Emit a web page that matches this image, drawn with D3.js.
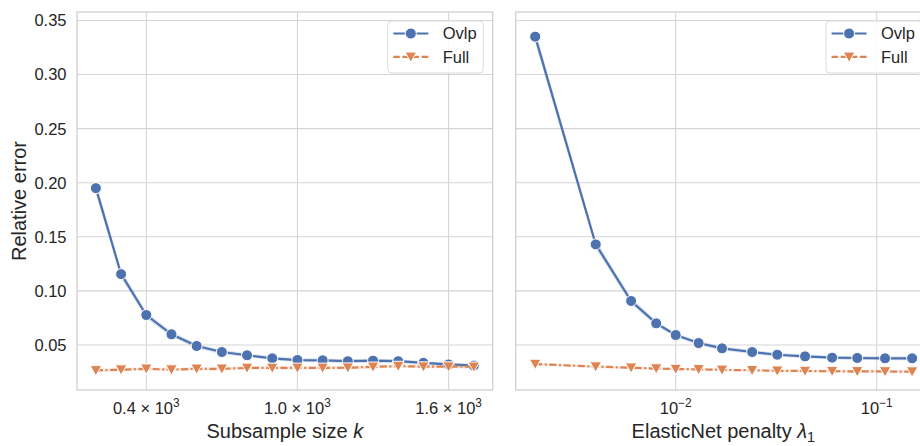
<!DOCTYPE html>
<html>
<head>
<meta charset="utf-8">
<script src="https://cdn.jsdelivr.net/npm/d3@7"></script>
<style>
  html, body { margin: 0; padding: 0; background: #fff; }
  svg { display: block; font-family: "Liberation Sans", Arial, sans-serif; }
</style>
</head>
<body>
<svg id="chart" width="920" height="446"></svg>
<script>
// ---- data ----
const subsampleSizes = [200, 300, 400, 500, 600, 700, 800, 900, 1000, 1100, 1200, 1300, 1400, 1500, 1600, 1700];
const ovlpBySize = [0.195, 0.1155, 0.0777, 0.0599, 0.0491, 0.0435, 0.0405, 0.0377, 0.0361, 0.0358, 0.0350, 0.0355, 0.0350, 0.0335, 0.0320, 0.0310];
const ovlpBySizeCI = [0.006, 0.004, 0.003, 0.0025, 0.002, 0.002, 0.0018, 0.0018, 0.0018, 0.0018, 0.0018, 0.0018, 0.0018, 0.0018, 0.0018, 0.0018];
const fullBySize = [0.0265, 0.0272, 0.0280, 0.0272, 0.0280, 0.0280, 0.0288, 0.0288, 0.0288, 0.0288, 0.0290, 0.0298, 0.0305, 0.0300, 0.0300, 0.0298];
const fullBySizeCI = [0.0015, 0.0015, 0.0015, 0.0015, 0.0015, 0.0015, 0.0015, 0.0015, 0.0015, 0.0015, 0.0015, 0.0015, 0.0015, 0.0015, 0.0015, 0.0015];

const penalties = [0.002, 0.004, 0.006, 0.008, 0.01, 0.013, 0.017, 0.024, 0.032, 0.044, 0.06, 0.08, 0.11, 0.15];
const ovlpByPenalty = [0.335, 0.143, 0.0907, 0.0700, 0.0592, 0.0518, 0.0469, 0.0435, 0.0410, 0.0395, 0.0383, 0.0380, 0.0377, 0.0377];
const ovlpByPenaltyCI = [0.006, 0.004, 0.003, 0.0025, 0.002, 0.002, 0.002, 0.0018, 0.0018, 0.0018, 0.0018, 0.0018, 0.0018, 0.0018];
const fullByPenalty = [0.0324, 0.0300, 0.0290, 0.0282, 0.0278, 0.0275, 0.0270, 0.0266, 0.0262, 0.0260, 0.0258, 0.0256, 0.0255, 0.0254];
const fullByPenaltyCI = [0.0012, 0.0012, 0.0012, 0.0012, 0.0012, 0.0012, 0.0012, 0.0012, 0.0012, 0.0012, 0.0012, 0.0012, 0.0012, 0.0012];

const yTicks = [0.05, 0.10, 0.15, 0.20, 0.25, 0.30, 0.35];
const sizeTicks = [{v: 400, m: "0.4"}, {v: 1000, m: "1.0"}, {v: 1600, m: "1.6"}];
const penaltyTicks = [{v: 0.01, e: "\u22122"}, {v: 0.1, e: "\u22121"}];
const seriesNames = ["Ovlp", "Full"];

// ---- style ----
const BLUE = "#4c72b0", ORANGE = "#dd8452";
const GRID = "#d5d5d5", SPINE = "#cfcfcf", TEXT = "#262626";
const TICK_FS = 16.5, LABEL_FS = 20;

const svg = d3.select("#chart");

const plotTop = 12, plotBottom = 390;
const y = d3.scaleLinear().domain([0.0084, 0.3578]).range([plotBottom, plotTop]);

const xLeft = d3.scaleLinear().domain([125, 1775]).range([77, 492.7]);
const xRight = d3.scaleLog().domain([Math.pow(10, -2.796), Math.pow(10, -0.730)]).range([515.7, 931]);

function markerCircle(sel, color) {
  return sel.append("circle").attr("r", 5.5).attr("fill", color)
    .attr("stroke", "#fff").attr("stroke-width", 1);
}
function markerTri(sel, color) {
  // downward triangle centred on the point
  return sel.append("path").attr("d", "M-5.8,-4.8L5.8,-4.8L0,5.4Z").attr("fill", color)
    .attr("stroke", "#fff").attr("stroke-width", 1).attr("stroke-linejoin", "miter");
}

function drawPanel(opts) {
  const {x, xs, ovlp, ovlpCI, full, fullCI, ticks, tickLabel, xLabel, showY, legendX} = opts;
  const [x0, x1] = x.range();
  const clipId = "clip" + Math.round(x0);
  svg.append("clipPath").attr("id", clipId)
    .append("rect").attr("x", x0).attr("y", plotTop).attr("width", x1 - x0).attr("height", plotBottom - plotTop);

  const g = svg.append("g");

  // gridlines
  g.append("g").selectAll("line").data(yTicks).join("line")
    .attr("x1", x0).attr("x2", x1).attr("y1", d => y(d)).attr("y2", d => y(d))
    .attr("stroke", GRID).attr("stroke-width", 1.1);
  g.append("g").selectAll("line").data(ticks).join("line")
    .attr("x1", d => x(d.v)).attr("x2", d => x(d.v)).attr("y1", plotTop).attr("y2", plotBottom)
    .attr("stroke", GRID).attr("stroke-width", 1.1);

  // spines
  g.append("rect").attr("x", x0).attr("y", plotTop).attr("width", x1 - x0).attr("height", plotBottom - plotTop)
    .attr("fill", "none").attr("stroke", SPINE).attr("stroke-width", 1.3);

  const plot = g.append("g").attr("clip-path", `url(#${clipId})`);

  const series = [
    {vals: ovlp, ci: ovlpCI, color: BLUE, dash: null, marker: markerCircle},
    {vals: full, ci: fullCI, color: ORANGE, dash: "7,2.6,2,2.6", marker: markerTri}
  ];

  series.forEach(s => {
    const pts = xs.map((xv, i) => ({x: xv, v: s.vals[i], c: s.ci[i]}));
    const area = d3.area().x(d => x(d.x)).y0(d => y(d.v - d.c)).y1(d => y(d.v + d.c));
    plot.append("path").datum(pts).attr("d", area).attr("fill", s.color).attr("fill-opacity", 0.2);
    const line = d3.line().x(d => x(d.x)).y(d => y(d.v));
    plot.append("path").datum(pts).attr("d", line).attr("fill", "none")
      .attr("stroke", s.color).attr("stroke-width", 2.2)
      .attr("stroke-dasharray", s.dash);
    plot.append("g").selectAll("g").data(pts).join("g")
      .attr("transform", d => `translate(${x(d.x)},${y(d.v)})`)
      .each(function () { s.marker(d3.select(this), s.color); });
  });

  // x tick labels
  const tl = g.append("g").selectAll("text").data(ticks).join("text")
    .attr("x", d => x(d.v)).attr("y", 413.5)
    .attr("text-anchor", "middle").attr("font-size", TICK_FS).attr("fill", TEXT);
  tl.each(function (d) { tickLabel(d3.select(this), d); });

  // x axis label
  const xl = g.append("text").attr("x", (x0 + x1) / 2).attr("y", 437.5)
    .attr("text-anchor", "middle").attr("font-size", LABEL_FS).attr("fill", TEXT);
  xLabel(xl);

  if (showY) {
    g.append("g").selectAll("text").data(yTicks).join("text")
      .attr("x", 66.5).attr("y", d => y(d)).attr("dy", "0.36em")
      .attr("text-anchor", "end").attr("font-size", TICK_FS).attr("fill", TEXT)
      .text(d => d.toFixed(2));
    g.append("text").attr("transform", `translate(26,${(plotTop + plotBottom) / 2}) rotate(-90)`)
      .attr("text-anchor", "middle").attr("font-size", LABEL_FS).attr("fill", TEXT)
      .text("Relative error");
  }

  // legend
  const lg = g.append("g").attr("transform", `translate(${legendX},21)`);
  lg.append("rect").attr("x", 0).attr("y", 0).attr("width", 95.6).attr("height", 52)
    .attr("rx", 4).attr("fill", "#fff").attr("fill-opacity", 0.85)
    .attr("stroke", "#dcdcdc").attr("stroke-width", 1);
  series.forEach((s, i) => {
    const yy = 12.5 + i * 23.4;
    lg.append("line").attr("x1", 5.6).attr("x2", 40.6).attr("y1", yy).attr("y2", yy)
      .attr("stroke", s.color).attr("stroke-width", 2.2).attr("stroke-dasharray", s.dash ? "7,2.6" : null)
      .attr("stroke-dashoffset", s.dash ? 0.5 : null);
    const m = lg.append("g").attr("transform", `translate(23.1,${yy})`);
    s.marker(m, s.color);
    lg.append("text").attr("x", 55).attr("y", yy).attr("dy", "0.36em")
      .attr("font-size", TICK_FS).attr("fill", TEXT).text(seriesNames[i]);
  });
}

drawPanel({
  x: xLeft, xs: subsampleSizes, ovlp: ovlpBySize, ovlpCI: ovlpBySizeCI,
  full: fullBySize, fullCI: fullBySizeCI, ticks: sizeTicks, showY: true, legendX: 387.7,
  tickLabel: (t, d) => {
    t.append("tspan").text(d.m + " \u00d7 10");
    t.append("tspan").attr("font-size", TICK_FS * 0.72).attr("dy", -7).text("3");
  },
  xLabel: t => {
    t.append("tspan").text("Subsample size ");
    t.append("tspan").attr("font-style", "italic").text("k");
  }
});

drawPanel({
  x: xRight, xs: penalties, ovlp: ovlpByPenalty, ovlpCI: ovlpByPenaltyCI,
  full: fullByPenalty, fullCI: fullByPenaltyCI, ticks: penaltyTicks, showY: false, legendX: 826,
  tickLabel: (t, d) => {
    t.append("tspan").text("10");
    t.append("tspan").attr("font-size", TICK_FS * 0.72).attr("dy", -7).text(d.e);
  },
  xLabel: t => {
    t.append("tspan").text("ElasticNet penalty ");
    t.append("tspan").attr("font-style", "italic").text("\u03bb");
    t.append("tspan").attr("font-size", LABEL_FS * 0.72).attr("dy", 4).text("1");
  }
});
</script>
</body>
</html>
